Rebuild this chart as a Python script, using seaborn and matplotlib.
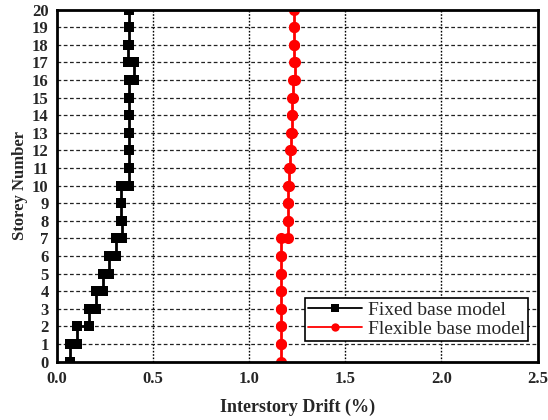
import numpy as np
import pandas as pd
import matplotlib
matplotlib.use("Agg")
import matplotlib.pyplot as plt
import seaborn as sns

storeys = list(range(1, 21))
fixed_drift = [0.068, 0.106, 0.168, 0.204, 0.238, 0.272, 0.306, 0.338, 0.335, 0.335,
               0.372, 0.372, 0.372, 0.372, 0.375, 0.375, 0.403, 0.369, 0.372, 0.372]
flex_drift = [1.167, 1.167, 1.167, 1.167, 1.167, 1.167, 1.167, 1.203, 1.203, 1.203,
              1.207, 1.213, 1.216, 1.221, 1.224, 1.228, 1.238, 1.235, 1.235, 1.235]
x_ticks = [0.0, 0.5, 1.0, 1.5, 2.0, 2.5]
labels = ["Fixed base model", "Flexible base model"]


def step_frame(drifts):
    xs, ys = [], []
    for s, d in zip(storeys, drifts):
        xs += [d, d]
        ys += [s - 1, s]
    return pd.DataFrame({"drift": xs, "storey": ys})


sns.set_style("white")
plt.rcParams["font.family"] = ["Liberation Serif", "DejaVu Serif"]

fig = plt.figure(figsize=(5.48, 4.2), dpi=100)
ax = fig.add_axes([0.104, 0.139, 0.877, 0.838])

sns.lineplot(data=step_frame(fixed_drift), x="drift", y="storey", sort=False,
             estimator=None, color="black", marker="s", markersize=7,
             markeredgewidth=0, linewidth=2, label=labels[0], ax=ax)
sns.lineplot(data=step_frame(flex_drift), x="drift", y="storey", sort=False,
             estimator=None, color="red", marker="o", markersize=8,
             markeredgewidth=0, linewidth=2, label=labels[1], ax=ax)

ax.set_xlim(0, 2.5)
ax.set_ylim(0, 20)
ax.set_xticks(x_ticks)
ax.set_xticklabels([f"{t:.1f}" for t in x_ticks])
ax.set_yticks(range(0, 21))

for x in x_ticks[1:-1]:
    ax.axvline(x, color="black", linestyle=(0, (1.2, 1.2)), linewidth=1, zorder=0.5)
for y in range(1, 20):
    ax.axhline(y, color="#222222", linestyle=(0, (3, 2)), linewidth=0.9, zorder=0.5)

ax.tick_params(length=0, labelsize=12)
ax.tick_params(axis="x", pad=7)
ax.tick_params(axis="y", pad=6)
for lab in ax.get_xticklabels() + ax.get_yticklabels():
    lab.set_fontweight("bold")

for sp in ax.spines.values():
    sp.set_linewidth(2)
    sp.set_color("black")

ax.set_xlabel("Interstory Drift (%)", fontsize=13, fontweight="bold", labelpad=8)
ax.set_ylabel("Storey Number", fontsize=12, fontweight="bold", labelpad=4)
ax.yaxis.set_label_coords(-0.06, 0.5)

leg = ax.legend(loc="lower right", bbox_to_anchor=(0.98, 0.06), fontsize=14,
                frameon=True, fancybox=False, edgecolor="black", framealpha=1,
                handlelength=2.8, borderpad=0.15, labelspacing=0.05, handletextpad=0.3,
                borderaxespad=0)
leg.get_frame().set_linewidth(1.2)
for h in leg.get_lines():
    h.set_linewidth(1.3)
    h.set_markersize(6)

fig.savefig("out.png", dpi=100)
